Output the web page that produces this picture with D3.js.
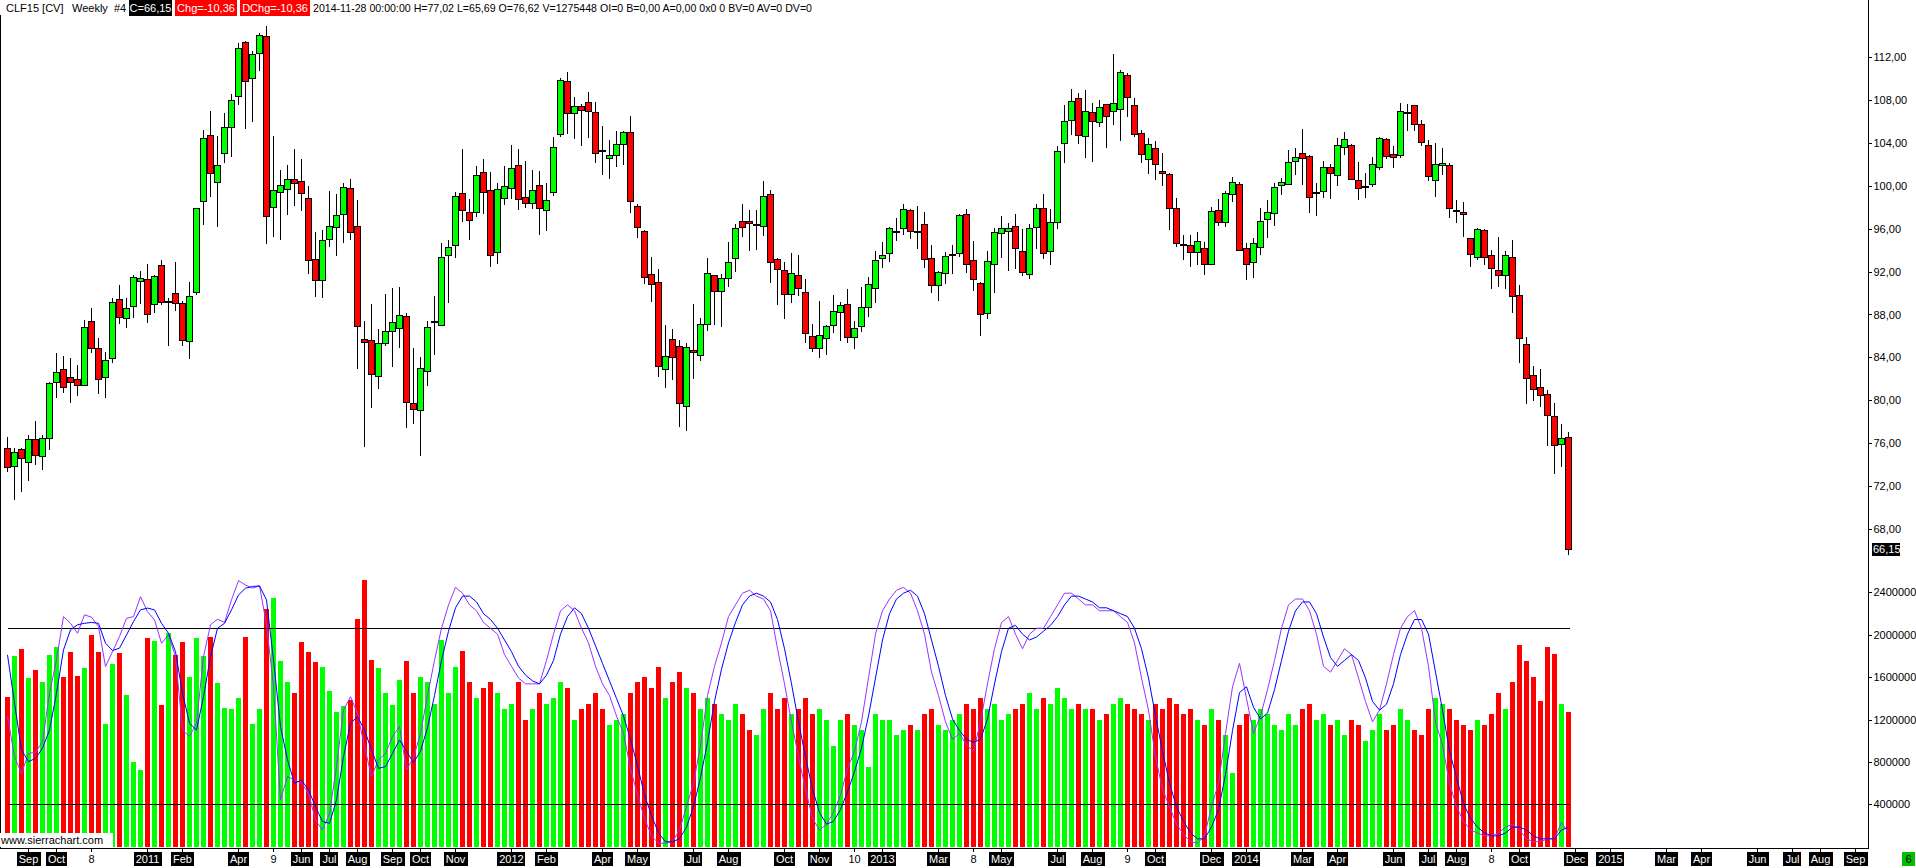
<!DOCTYPE html>
<html><head><meta charset="utf-8">
<script src="https://cdn.jsdelivr.net/npm/d3@7"></script>
<style>
body{margin:0;background:#fff;overflow:hidden;}
svg{display:block;font-family:"Liberation Sans",Arial,sans-serif;font-size:11px;}
</style></head><body>
<svg id="c" width="1916" height="868"></svg>
<script>
// ---------------- DATA ----------------
const openP = [75.54,73.87,75.45,74.24,76.38,74.80,76.47,81.69,82.90,82.15,
81.97,81.44,87.36,84.85,82.18,83.92,89.41,87.64,88.76,91.12,
91.27,88.95,92.61,89.20,90.00,89.04,85.50,90.06,98.57,104.68,
100.33,103.03,105.45,108.31,113.34,110.08,112.31,113.89,98.07,99.40,
99.65,100.65,100.40,98.81,93.14,91.18,95.00,96.11,97.32,99.75,
96.21,85.69,85.60,82.28,85.32,86.46,86.71,87.83,79.80,79.10,
82.74,87.35,87.03,93.51,94.44,99.28,97.51,97.51,101.24,99.56,
93.79,98.82,99.75,101.89,98.91,98.35,100.03,97.70,99.38,104.77,
109.71,106.73,107.44,107.75,106.82,103.30,102.54,102.82,103.84,104.96,
98.07,95.75,91.74,91.00,82.93,85.69,85.07,79.50,84.67,84.20,
87.09,91.65,90.16,91.37,93.23,96.68,96.68,96.40,96.21,99.19,
93.14,92.11,89.88,91.65,90.06,86.00,84.90,85.80,87.00,88.30,
89.00,85.90,86.90,88.70,90.44,93.23,93.70,95.70,96.02,97.70,
95.70,96.39,93.23,90.72,91.83,93.60,93.70,97.33,93.04,90.90,
88.10,92.67,95.56,95.74,96.21,93.88,91.74,96.12,97.88,93.88,
96.58,103.93,106.08,108.12,104.59,106.82,105.89,107.57,106.91,107.10,
110.27,107.47,104.87,102.45,103.47,101.33,101.05,97.88,94.60,94.44,
93.79,94.16,92.67,97.70,96.58,99.19,100.12,94.16,92.86,94.25,
96.86,97.42,100.03,100.12,102.26,103.00,102.72,99.40,99.47,101.70,
100.96,103.59,103.75,100.49,99.95,100.12,101.70,104.31,102.91,102.82,
106.85,107.47,105.70,103.75,100.49,101.89,101.89,97.70,97.51,95.09,
93.32,95.83,93.51,92.11,91.65,93.32,89.78,85.22,82.34,81.22,
80.57,78.52,75.91,76.62];
const highP = [76.62,75.60,75.54,76.78,78.08,76.78,81.71,84.39,84.14,83.98,
83.30,87.49,88.57,85.78,84.48,89.51,90.75,89.57,91.68,92.05,
92.67,91.68,93.07,89.51,92.92,89.26,91.06,97.91,105.18,106.94,
104.62,106.73,108.50,113.24,113.49,112.53,114.21,114.86,104.62,101.45,
101.92,103.41,102.48,99.93,95.68,95.87,99.50,99.22,100.21,100.58,
98.66,87.40,88.95,86.65,89.91,90.44,90.53,88.11,84.85,84.07,
87.40,89.72,94.69,94.94,99.41,103.41,98.76,101.83,102.48,101.30,
100.21,101.83,103.78,103.41,102.29,101.46,101.36,100.24,104.53,110.05,
110.58,108.25,107.63,108.71,107.78,105.55,104.25,105.08,105.08,106.48,
98.29,95.90,93.36,92.21,87.03,86.65,85.63,85.30,88.98,87.65,
93.23,91.65,91.74,94.78,96.40,98.26,97.73,97.73,100.43,99.59,
93.29,92.92,93.70,93.54,91.27,87.10,89.29,87.00,89.82,89.20,
90.38,87.40,90.56,91.49,93.91,94.75,96.18,97.01,98.29,97.79,
98.07,97.57,94.47,92.08,93.79,94.47,97.36,97.82,94.84,91.06,
93.91,96.02,97.17,96.52,97.36,95.96,96.39,98.29,99.22,97.82,
103.66,107.47,108.99,108.59,108.87,107.66,107.94,107.57,112.25,110.76,
110.48,108.12,105.18,104.40,104.15,103.03,101.21,98.82,95.40,95.40,
95.68,94.78,98.04,98.75,99.50,100.80,100.37,94.63,95.10,97.88,
98.63,100.21,100.68,103.31,103.50,105.27,102.85,100.21,102.26,101.98,
104.40,104.96,103.84,102.17,101.14,102.63,104.52,104.46,103.69,107.69,
107.60,107.47,106.11,104.21,103.94,103.50,102.07,98.63,98.50,95.09,
96.02,95.93,93.97,95.22,93.88,94.94,90.75,85.87,83.17,82.89,
80.94,79.73,77.77,77.02];
const lowP = [73.46,70.79,71.59,72.59,74.11,73.64,75.50,80.35,80.82,79.89,
80.51,81.44,84.54,80.72,80.35,83.61,87.18,86.87,87.80,89.10,
87.33,88.20,88.95,85.16,88.42,85.16,83.92,89.88,96.46,99.06,
96.27,102.17,102.79,107.56,105.39,106.04,110.76,94.69,95.34,95.06,
97.32,98.19,97.73,91.86,89.75,89.66,94.41,93.57,94.78,95.00,
82.99,75.76,79.42,81.19,85.16,83.24,85.00,77.50,77.90,74.95,
81.44,84.29,87.03,89.20,93.32,96.74,95.06,97.20,97.42,92.55,
92.83,98.32,98.82,97.79,98.04,97.88,95.53,95.90,99.13,104.65,
104.93,104.46,103.81,104.53,102.23,101.11,100.74,101.86,102.00,97.58,
95.22,90.97,89.29,82.31,81.21,82.00,77.60,77.28,82.12,83.74,
86.53,87.09,86.96,90.69,92.08,95.34,94.04,94.13,95.40,91.06,
89.01,87.71,89.20,89.82,85.40,84.60,84.05,84.30,86.40,85.60,
85.40,84.90,86.50,87.90,89.20,92.45,93.01,94.97,95.50,95.09,
94.16,92.45,90.13,89.38,90.90,91.90,93.45,92.00,90.28,86.10,
87.70,90.13,93.39,92.17,92.30,91.68,91.37,94.16,93.23,92.73,
96.09,102.23,104.77,104.00,102.69,102.32,105.52,103.62,105.70,104.28,
106.45,104.59,102.23,101.14,100.65,100.09,96.00,94.41,93.14,92.55,
92.73,91.80,92.67,96.36,96.27,98.60,93.97,91.34,91.52,93.66,
95.25,96.36,99.19,100.12,101.11,100.18,97.57,97.30,98.94,98.88,
100.03,102.94,100.58,98.78,98.97,100.00,101.51,102.54,101.70,102.63,
105.18,105.15,103.75,100.49,99.06,101.05,97.11,96.64,95.34,92.55,
93.14,92.73,90.50,90.69,90.50,88.27,83.61,79.80,80.07,79.51,
75.88,73.28,73.93,65.69];
const closeP = [73.77,75.17,74.61,76.38,74.89,76.47,81.59,82.62,81.22,81.69,
81.44,86.81,84.85,81.97,83.73,89.13,87.74,88.57,91.46,91.37,
88.02,91.55,89.20,89.30,89.04,85.60,89.69,97.91,104.40,101.14,
101.89,105.42,107.94,112.78,109.71,112.28,113.99,97.14,99.62,100.09,
100.58,100.24,99.28,93.04,91.18,94.90,96.21,97.23,99.84,95.65,
86.90,85.41,82.43,85.32,86.43,87.27,87.93,79.85,79.20,82.99,
86.81,87.43,93.32,94.26,99.00,97.70,96.77,100.96,99.38,93.51,
99.65,99.93,101.61,98.72,98.35,99.56,97.86,98.63,103.56,109.80,
106.73,107.38,107.10,106.91,103.00,103.20,102.82,103.84,104.96,98.51,
96.09,91.46,90.81,83.18,84.11,83.99,79.76,84.95,84.48,87.09,
91.84,90.16,91.37,92.86,96.02,96.12,96.49,96.42,99.00,92.86,
92.21,89.88,91.83,90.44,86.28,84.86,86.07,86.92,88.28,88.91,
85.93,86.73,88.66,90.81,93.04,93.51,96.02,95.77,97.79,95.74,
95.77,93.14,90.72,91.93,93.42,93.63,97.23,92.67,91.27,88.01,
92.95,95.65,96.02,96.02,94.16,91.93,96.02,97.88,93.70,96.58,
103.19,105.98,107.85,104.68,106.91,105.98,107.29,106.45,107.66,110.54,
108.22,104.77,102.91,103.84,101.98,101.14,97.88,94.63,94.56,93.79,
94.81,92.67,97.60,96.58,99.28,100.30,93.97,92.67,94.63,96.67,
97.51,99.84,100.30,102.17,102.63,102.54,98.91,99.44,101.70,101.14,
103.75,104.31,100.58,99.75,99.99,101.98,104.40,102.72,102.63,106.91,
106.88,105.70,104.03,100.86,101.98,102.07,97.88,97.67,97.33,93.60,
95.93,93.32,92.30,91.65,93.51,89.69,85.78,82.06,81.03,80.48,
78.61,75.82,76.47,66.15];
const volume = [1415000,1800000,1865000,1594000,1670000,1557000,1808000,1884000,1600000,1840000,
1613000,1686000,1997000,1840000,1158000,1724000,1827000,1431000,799000,724000,
1969000,1944000,1337000,2019000,1808000,1934000,1600000,1969000,1800000,1980000,
1544000,1312000,1299000,1406000,1980000,1160000,1299000,2242000,2349000,1755000,
1554000,1453000,1934000,1840000,1745000,1695000,1472000,1274000,1330000,1384000,
2151000,2516000,1764000,1689000,1453000,1340000,1575000,1750000,1450000,1600000,
1550000,1350000,1950000,1450000,1700000,1850000,1550000,1400000,1500000,1550000,
1450000,1300000,1350000,1550000,1200000,1300000,1450000,1350000,1400000,1550000,
1500000,1200000,1300000,1350000,1450000,1300000,1150000,1200000,1250000,1450000,
1550000,1600000,1500000,1700000,1400000,1550000,1650000,1500000,1450000,1300000,
1400000,1350000,1250000,1200000,1350000,1250000,1100000,1050000,1300000,1450000,
1300000,1400000,1250000,1300000,1400000,1250000,1300000,1200000,950000,1200000,
1250000,1150000,1100000,750000,1250000,1200000,1200000,1050000,1100000,1150000,
1100000,1250000,1300000,1150000,1100000,1200000,1250000,1350000,1300000,1400000,
1300000,1350000,1200000,1250000,1300000,1350000,1450000,1300000,1400000,1350000,
1500000,1400000,1300000,1350000,1300000,1300000,1200000,1250000,1350000,1400000,
1350000,1300000,1250000,1200000,1350000,1300000,1400000,1350000,1250000,1300000,
1200000,1150000,1300000,1200000,1050000,700000,1150000,1250000,1200000,1300000,
1250000,1150000,1100000,1250000,1150000,1300000,1350000,1200000,1250000,1150000,
1200000,1050000,1200000,1150000,1000000,1100000,1250000,1100000,1150000,1300000,
1200000,1100000,1050000,1300000,1400000,1350000,1300000,1200000,1150000,1100000,
1200000,1150000,1250000,1450000,1300000,1550000,1900000,1750000,1600000,1374000,
1884000,1818000,1346000,1275448];
const stochK = [50.0,36.1,30.4,37.2,37.6,41.2,57.8,69.2,84.0,81.7,
78.3,84.6,83.8,80.6,66.9,72.0,77.2,83.4,84.0,90.8,
85.7,82.9,74.9,77.7,70.3,45.2,43.0,47.5,70.3,81.2,
83.1,82.0,89.7,96.3,94.8,93.7,94.5,81.2,60.1,21.3,
29.3,28.1,27.0,23.6,14.4,11.0,16.7,32.7,52.1,56.6,
50.9,39.5,29.3,35.0,37.2,43.0,46.4,
31.6,35.8,44,57,69,80,88,94,92,88,
86,82,80,78,71,67,63,61,61,61,
69,78,86,88,86,80,75,67,61,57,
50,44,32,23,15,9,6.5,6.5,7,11,
19,27,40,57,67,75,84,88,92,93,
91,90,86,73,61,48,36,25,15,11,
13,17,23,32,38,48,63,78,86,90,
93,94,92,86,78,65,57,48,42,44,
40,38,48,61,73,82,84,78,73,78,
80,80,84,88,92,92,90,88,88,86,
86,86,84,82,75,63,52,36,25,19,
13,9.5,7,6.5,9,19,27,44,60,68,
56,44,50,59,69,80,88,90,90,86,
78,67,65,69,73,71,63,55,48,52,
61,71,80,84,86,80,67,48,40,27,
19,14,11,10,9,9,10,12,13,11,
8,7,7,8,8,13.6,10];
const stochD = [70.9,54.4,38.4,34.4,35.5,39.0,45.2,57.8,72.6,79.5,
81.2,81.7,82.0,81.7,74.9,72.4,73.2,77.7,82.3,86.3,
86.9,86.3,81.7,78.3,72.0,57.8,47.5,45.2,56.6,70.3,
80.0,81.7,86.3,91.4,93.7,94.3,94.5,89.7,69.2,46.4,
35.0,27.0,28.1,24.7,19.0,13.9,13.3,21.3,36.1,47.5,
49.8,45.2,38.4,32.1,32.7,37.2,41.8,
38,34,38,46,57,69,79,87,91,91,
89,85,83,80,76,72,67,64,62,61,
64,69,78,84,87,85,80,74,68,62,
56,50,42,33,23,16,10,7,7,8,
12,19,29,41,55,66,75,82,88,91,
92,91,89,83,73,61,48,36,25,17,
13,14,18,24,31,39,50,63,76,85,
90,92,93,91,85,76,67,57,49,45,
42,41,42,49,61,72,80,81,78,76,
77,79,81,84,88,91,91,90,89,87,
87,86,85,84,80,73,63,50,38,27,
19,14,10,8,8,12,18,30,45,58,
60,53,49,51,59,69,79,86,89,89,
85,77,70,67,69,71,69,63,55,52,
54,61,71,78,83,83,78,65,52,38,
29,20,15,12,10,9,9,10,12,12,
11,9,8,8,8,11,12];
const stochLevels = [80, 20];
const priceTicks = [68,72,76,80,84,88,92,96,100,104,108,112];
const volumeTicks = [400000,800000,1200000,1600000,2000000,2400000];
const timeLabels = ["Sep","Oct","8","2011","Feb","Apr","9","Jun","Jul","Aug","Sep","Oct","Nov","2012","Feb","Apr","May","Jul","Aug","Oct","Nov","10","2013","Mar","8","May","Jul","Aug","9","Oct","Dec","2014","Mar","Apr","Jun","Jul","Aug","8","Oct","Dec","2015","Mar","Apr","Jun","Jul","Aug","Sep"];
const timeBars = [3,7,12,20,25,33,38,42,46,50,55,59,64,72,77,85,90,98,103,111,116,121,125,133,138,142,150,155,160,164,172,177,185,190,198,203,207,212,216,224,229,237,242,250,255,259,264];
const headerWords = ["CLF15 [CV]", "Weekly", "#4"];
const headerBoxes = ["C=66,15", "Chg=-10,36", "DChg=-10,36"];
const headerTail = "2014-11-28 00:00:00 H=77,02 L=65,69 O=76,62 V=1275448 OI=0 B=0,00 A=0,00 0x0 0 BV=0 AV=0 DV=0";
const lastPriceLabel = "66,15";

// ---------------- LAYOUT ----------------
const axisX = 1868, bottomY = 848;
const RED = "#ff0000", GREEN = "#00ff00";
const svg = d3.select("#c");
const n = openP.length;
const idx = d3.range(n);
const x = d3.scaleLinear().domain([0, 223]).range([7.5, 7.5 + 7 * 223]);
const yP = d3.scaleLinear().domain([68, 112]).range([529.3, 56.7]);
const yV = d3.scaleLinear().domain([0, 2400000]).range([846.7, 592.3]);
const yS = d3.scaleLinear().domain([0, 100]).range([862.2, 569.8]);
const up = i => closeP[i] >= openP[i];
const snap = v => Math.round(v) + 0.5;

// volume bars
svg.append("g").attr("shape-rendering", "crispEdges")
  .selectAll("rect").data(idx).join("rect")
  .attr("x", i => x(i) - 2.5).attr("width", 5)
  .attr("y", i => Math.round(yV(volume[i])))
  .attr("height", i => Math.round(yV(0)) - Math.round(yV(volume[i])))
  .attr("fill", i => up(i) ? GREEN : RED);

// stochastic level lines
svg.append("g").attr("shape-rendering", "crispEdges")
  .selectAll("line").data(stochLevels).join("line")
  .attr("x1", x(0)).attr("x2", x(n - 1) + 1)
  .attr("y1", d => snap(yS(d))).attr("y2", d => snap(yS(d)))
  .attr("stroke", "#000").attr("stroke-width", 1);

// stochastic lines
const sl = d3.line().x((d, i) => x(i)).y(d => yS(d));
svg.append("path").datum(stochK).attr("d", sl).attr("fill", "none").attr("stroke", "#9933ff").attr("stroke-width", 1);
svg.append("path").datum(stochD).attr("d", sl).attr("fill", "none").attr("stroke", "#0000ff").attr("stroke-width", 1);

// candles
const cg = svg.append("g").attr("shape-rendering", "crispEdges");
cg.selectAll("line").data(idx).join("line")
  .attr("x1", i => x(i)).attr("x2", i => x(i))
  .attr("y1", i => Math.round(yP(highP[i]))).attr("y2", i => Math.round(yP(lowP[i])) + 1)
  .attr("stroke", "#000").attr("stroke-width", 1);
cg.selectAll("rect").data(idx).join("rect")
  .attr("x", i => x(i) - 3).attr("width", 6)
  .attr("y", i => snap(yP(Math.max(openP[i], closeP[i]))))
  .attr("height", i => Math.max(1, Math.round(Math.abs(yP(openP[i]) - yP(closeP[i])))))
  .attr("fill", i => up(i) ? GREEN : RED)
  .attr("stroke", "#000").attr("stroke-width", 1);

// right axes
const fmtP = d => d.toFixed(2).replace(".", ",");
const ax1 = svg.append("g").attr("transform", `translate(${axisX + 0.5},0)`)
  .call(d3.axisRight(yP).tickValues(priceTicks).tickSize(3).tickPadding(2).tickFormat(fmtP));
const ax2 = svg.append("g").attr("transform", `translate(${axisX + 0.5},0)`)
  .call(d3.axisRight(yV).tickValues(volumeTicks).tickSize(3).tickPadding(2).tickFormat(d3.format("d")));
[ax1, ax2].forEach(a => {
  a.select(".domain").remove();
  a.selectAll("text").attr("font-family", "Liberation Sans, Arial, sans-serif").attr("font-size", 11).attr("fill", "#000");
  a.selectAll("line").attr("stroke", "#000").attr("shape-rendering", "crispEdges");
});

// frame lines
const fr = svg.append("g").attr("stroke", "#000").attr("shape-rendering", "crispEdges");
fr.append("line").attr("x1", axisX + 0.5).attr("x2", axisX + 0.5).attr("y1", 0).attr("y2", bottomY + 1);
fr.append("line").attr("x1", 0).attr("x2", axisX + 1).attr("y1", bottomY + 0.5).attr("y2", bottomY + 0.5);
fr.append("line").attr("x1", 0.5).attr("x2", 0.5).attr("y1", 15).attr("y2", bottomY);

// last price label
const lpY = yP(closeP[n - 1]);
svg.append("rect").attr("x", 1872).attr("y", Math.round(lpY) - 6).attr("width", 28).attr("height", 13).attr("fill", "#000");
svg.append("text").attr("x", 1873).attr("y", Math.round(lpY) + 4).attr("fill", "#fff").text(lastPriceLabel);

// bottom time axis
const tg = svg.append("g");
timeLabels.forEach((lab, k) => {
  const cx = x(timeBars[k]);
  tg.append("line").attr("x1", cx).attr("x2", cx).attr("y1", bottomY).attr("y2", bottomY + 4)
    .attr("stroke", "#000").attr("shape-rendering", "crispEdges");
  const isDay = /^\d{1,2}$/.test(lab);
  const t = tg.append("text").attr("x", cx).attr("y", 863).attr("text-anchor", "middle").text(lab);
  const w = t.node().getComputedTextLength();
  if (!isDay) {
    tg.insert("rect", () => t.node()).attr("x", Math.round(cx - w / 2 - 2)).attr("y", 852).attr("width", Math.round(w + 4)).attr("height", 14).attr("fill", "#000");
    t.attr("fill", "#fff");
  } else t.attr("fill", "#000");
});

// green "6" box
svg.append("rect").attr("x", 1902).attr("y", 852).attr("width", 13).attr("height", 14).attr("fill", "#00c000");
svg.append("text").attr("x", 1908.5).attr("y", 863).attr("text-anchor", "middle").attr("fill", "#000").text("6");

// sierrachart box
svg.append("rect").attr("x", 0).attr("y", 833).attr("width", 113).attr("height", 14).attr("fill", "#fff");
svg.append("text").attr("x", 1).attr("y", 844).attr("fill", "#000").text("www.sierrachart.com");

// header
const hg = svg.append("g");
const wordX = [6, 72, 114];
headerWords.forEach((s, k) => hg.append("text").attr("x", wordX[k]).attr("y", 12).attr("fill", "#000").text(s));
const boxX = [129, 175, 240], boxW = [43, 62, 70], boxBg = ["#000", RED, RED];
headerBoxes.forEach((s, k) => {
  hg.append("rect").attr("x", boxX[k]).attr("y", 0).attr("width", boxW[k]).attr("height", 16).attr("fill", boxBg[k]);
  hg.append("text").attr("x", boxX[k] + boxW[k] / 2).attr("y", 12).attr("text-anchor", "middle").attr("fill", "#fff").text(s);
});
hg.append("text").attr("x", 313).attr("y", 12).attr("fill", "#000")
  .attr("textLength", 499).attr("lengthAdjust", "spacingAndGlyphs").text(headerTail);
</script>
</body></html>
